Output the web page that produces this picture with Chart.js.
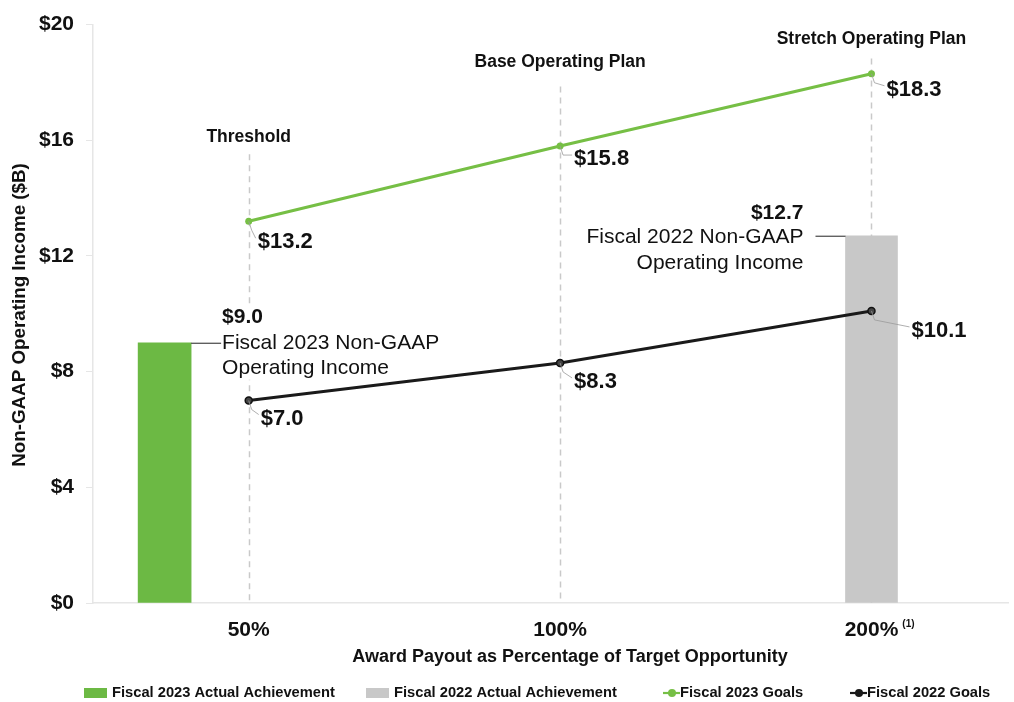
<!DOCTYPE html>
<html><head><meta charset="utf-8">
<script src="https://cdn.jsdelivr.net/npm/chart.js@4.4.1/dist/chart.umd.min.js"></script>
<style>html,body{margin:0;padding:0;background:#fff;overflow:hidden}#wrap{position:relative;width:1014px;height:702px}</style>
</head><body><div id="wrap"><canvas id="c"></canvas></div>
<script>
// ---- data ----
const payoutLabels = ['50%', '100%', '200%'];
const payoutFootnote = ['', '', '(1)'];
const payoutPos = [1, 2, 3];
const milestoneNames = ['Threshold', 'Base Operating Plan', 'Stretch Operating Plan'];
const fy23Goals = [13.2, 15.8, 18.3];
const fy22Goals = [7.0, 8.3, 10.1];
const fy23ActualPos = [0.73];
const fy23Actual = [9.0];
const fy22ActualPos = [3];
const fy22Actual = [12.7];
const yTicks = [0, 4, 8, 12, 16, 20];
const seriesNames = ['Fiscal 2023 Actual Achievement', 'Fiscal 2022 Actual Achievement', 'Fiscal 2023 Goals', 'Fiscal 2022 Goals'];
const barNotes = [['Fiscal 2023 Non-GAAP', 'Operating Income'], ['Fiscal 2022 Non-GAAP', 'Operating Income']];

// ---- layout (not data) ----
const headingY = [16.1, 18.69, 19.48];
const dashTopY = [15.52, 17.86, 18.83];
const fy23LabelOff = [[9, 21], [14, 13], [15, 16]];
const fy22LabelOff = [[12, 18], [14, 19], [40, 20]];

const GREEN = '#6cb944', GREEN_LINE = '#76bf45', GRAY = '#c8c8c8', BLACK = '#1a1a1a';
const FONT = '"Liberation Sans", Arial, sans-serif';

const toXY = (xs, ys) => ys.map((v, i) => ({ x: xs[i], y: v }));

const annot = {
  id: 'annot',
  beforeDatasetsDraw(chart) {
    const { ctx, scales: { x, y } } = chart;
    ctx.save();
    ctx.strokeStyle = '#c9c9c9'; ctx.lineWidth = 1.5; ctx.setLineDash([6, 5]);
    payoutPos.forEach((p, i) => {
      const px = Math.round(x.getPixelForValue(p)) + 0.5;
      ctx.beginPath();
      ctx.moveTo(px, y.getPixelForValue(dashTopY[i]));
      ctx.lineTo(px, y.getPixelForValue(0));
      ctx.stroke();
    });
    const bar23 = chart.getDatasetMeta(0).data[0];
    if (bar23) {
      const tx = bar23.x + bar23.width / 2 + 31, by = bar23.y;
      ctx.fillStyle = '#fff'; ctx.fillRect(tx - 2, by - 35, 222, 72);
    }
    ctx.restore();
  },
  afterDatasetsDraw(chart) {
    const { ctx, scales: { x, y } } = chart;
    ctx.save();
    ctx.fillStyle = '#111'; ctx.textAlign = 'center'; ctx.textBaseline = 'middle';
    ctx.font = 'bold 17.5px ' + FONT;
    payoutPos.forEach((p, i) => ctx.fillText(milestoneNames[i], x.getPixelForValue(p), y.getPixelForValue(headingY[i])));

    const drawVal = (xs, vals, offs) => {
      vals.forEach((v, i) => {
        const px = x.getPixelForValue(xs[i]), py = y.getPixelForValue(v);
        const tx = px + offs[i][0], ty = py + offs[i][1];
        ctx.strokeStyle = '#9a9a9a'; ctx.lineWidth = 0.8; ctx.setLineDash([]);
        ctx.beginPath(); ctx.moveTo(px, py); ctx.lineTo(px + 3, py + 9); ctx.lineTo(tx - 2, ty - 4); ctx.stroke();
        ctx.fillStyle = '#111'; ctx.textAlign = 'left'; ctx.textBaseline = 'middle';
        ctx.font = 'bold 22px ' + FONT;
        ctx.fillText('$' + v.toFixed(1), tx, ty);
      });
    };
    drawVal(payoutPos, fy23Goals, fy23LabelOff);
    drawVal(payoutPos, fy22Goals, fy22LabelOff);

    const bar23 = chart.getDatasetMeta(0).data[0];
    const bar22 = chart.getDatasetMeta(1).data[0];
    {
      const bx = bar23.x + bar23.width / 2, by = bar23.y;
      const tx = bx + 31;
      ctx.strokeStyle = '#222'; ctx.lineWidth = 1;
      ctx.beginPath(); ctx.moveTo(bx, by + 0.5); ctx.lineTo(tx - 1, by + 0.5); ctx.stroke();
      ctx.fillStyle = '#111'; ctx.textAlign = 'left'; ctx.textBaseline = 'middle';
      ctx.font = 'bold 21px ' + FONT; ctx.fillText('$' + fy23Actual[0].toFixed(1), tx, by - 26);
      ctx.font = '21px ' + FONT;
      ctx.fillText(barNotes[0][0], tx, by);
      ctx.fillText(barNotes[0][1], tx, by + 25);
    }
    {
      const bx = bar22.x - bar22.width / 2, by = bar22.y;
      const tx = bx - 42;
      ctx.strokeStyle = '#222'; ctx.lineWidth = 1;
      ctx.beginPath(); ctx.moveTo(bx, by + 0.5); ctx.lineTo(tx + 12, by + 0.5); ctx.stroke();
      ctx.fillStyle = '#111'; ctx.textAlign = 'right'; ctx.textBaseline = 'middle';
      ctx.font = 'bold 21px ' + FONT; ctx.fillText('$' + fy22Actual[0].toFixed(1), tx, by - 23);
      ctx.font = '21px ' + FONT;
      ctx.fillText(barNotes[1][0], tx, by + 1);
      ctx.fillText(barNotes[1][1], tx, by + 27);
    }
    ctx.restore();
  },
  afterDraw(chart) {
    const { ctx, scales: { x, y }, chartArea } = chart;
    ctx.save();
    ctx.fillStyle = '#111'; ctx.textBaseline = 'middle'; ctx.textAlign = 'left';
    payoutPos.forEach((p, i) => {
      if (!payoutFootnote[i]) return;
      ctx.font = 'bold 21px ' + FONT;
      const w = ctx.measureText(payoutLabels[i]).width;
      ctx.font = 'bold 10px ' + FONT;
      ctx.fillText(payoutFootnote[i], x.getPixelForValue(p) + w / 2 + 4, 624);
    });
    ctx.font = 'bold 18px ' + FONT; ctx.textAlign = 'center';
    ctx.fillText('Award Payout as Percentage of Target Opportunity', 570, 657);
    ctx.save();
    ctx.translate(20, 315);
    ctx.rotate(-Math.PI / 2);
    ctx.font = 'bold 18.8px ' + FONT;
    ctx.fillText('Non-GAAP Operating Income ($B)', 0, 0);
    ctx.restore();
    const ly = 693;
    ctx.font = 'bold 14.7px ' + FONT; ctx.textAlign = 'left';
    const items = [
      { x: 84, kind: 'box', color: GREEN },
      { x: 366, kind: 'box', color: GRAY },
      { x: 663, kind: 'line', color: GREEN_LINE },
      { x: 850, kind: 'line', color: BLACK }
    ];
    items.forEach((it, i) => {
      let tx;
      if (it.kind === 'box') {
        ctx.fillStyle = it.color; ctx.fillRect(it.x, ly - 5, 23, 10); tx = it.x + 28;
      } else {
        ctx.strokeStyle = it.color; ctx.lineWidth = 2.2;
        ctx.beginPath(); ctx.moveTo(it.x, ly); ctx.lineTo(it.x + 17, ly); ctx.stroke();
        ctx.fillStyle = it.color; ctx.beginPath(); ctx.arc(it.x + 9, ly, 4, 0, Math.PI * 2); ctx.fill();
        tx = it.x + 17;
      }
      ctx.fillStyle = '#111';
      ctx.fillText(seriesNames[i], tx, ly);
    });
    ctx.restore();
  }
};

new Chart(document.getElementById('c'), {
  data: {
    datasets: [
      { type: 'bar', label: seriesNames[0], data: toXY(fy23ActualPos, fy23Actual), backgroundColor: GREEN, barThickness: 53, grouped: false, order: 3 },
      { type: 'bar', label: seriesNames[1], data: toXY(fy22ActualPos, fy22Actual), backgroundColor: GRAY, barThickness: 52, grouped: false, order: 3 },
      { type: 'line', label: seriesNames[2], data: toXY(payoutPos, fy23Goals), borderColor: GREEN_LINE, backgroundColor: GREEN_LINE, borderWidth: 3, pointRadius: 3.5, pointBorderWidth: 0, order: 1 },
      { type: 'line', label: seriesNames[3], data: toXY(payoutPos, fy22Goals), borderColor: BLACK, backgroundColor: '#444', borderWidth: 3, pointRadius: 3.5, pointBorderColor: '#111', pointBorderWidth: 1.5, order: 1 }
    ]
  },
  options: {
    responsive: true, maintainAspectRatio: false, animation: false,
    layout: { padding: { top: 0, right: 0, left: 0, bottom: 0 } },
    plugins: { legend: { display: false }, tooltip: { enabled: false } },
    scales: {
      x: {
        type: 'linear', min: 0.5, max: 3.44, offset: false,
        afterBuildTicks: s => { s.ticks = payoutPos.map(v => ({ value: v })); },
        afterFit: s => { s.height = 99; },
        ticks: { callback: v => payoutLabels[payoutPos.indexOf(v)] ?? '', color: '#111', font: { family: FONT, size: 21, weight: 'bold' }, padding: 15, maxRotation: 0, autoSkip: false },
        grid: { display: false, drawTicks: false },
        border: { display: true, color: '#e6e6e6', width: 1.5 }
      },
      y: {
        min: 0, max: 20,
        afterBuildTicks: s => { s.ticks = yTicks.map(v => ({ value: v })); },
        afterFit: s => { s.width = 93; },
        ticks: { callback: v => '$' + v, color: '#111', font: { family: FONT, size: 21, weight: 'bold' }, padding: 12 },
        grid: { drawOnChartArea: false, tickLength: 7, color: '#e6e6e6' },
        border: { display: true, color: '#e6e6e6', width: 1.5 }
      }
    }
  },
  plugins: [annot]
});
</script></body></html>
